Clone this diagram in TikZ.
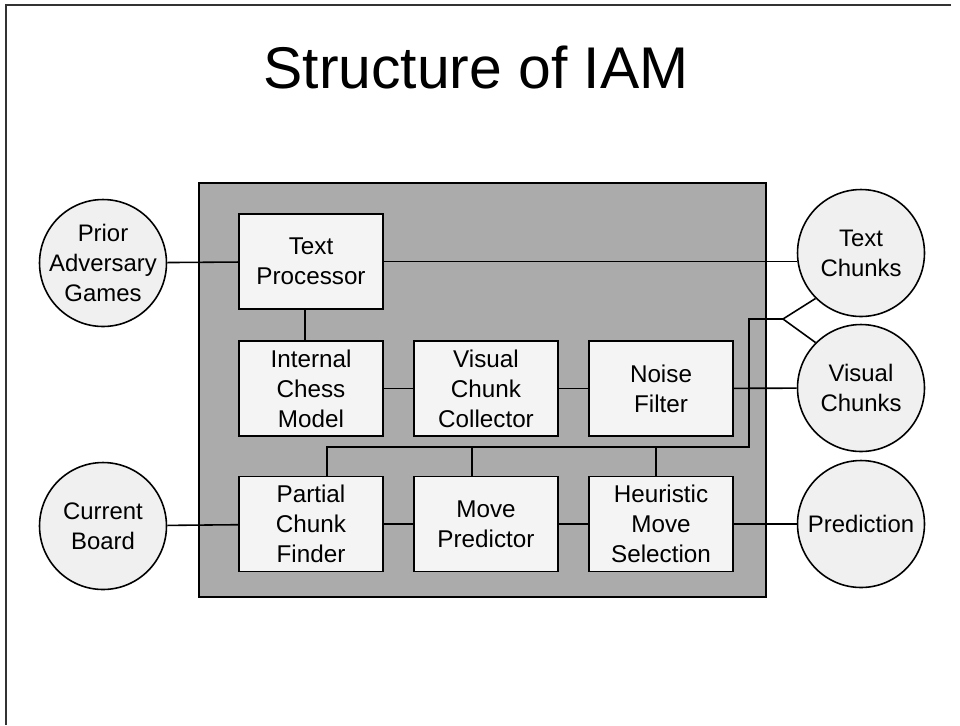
\documentclass[tikz,border=0pt]{standalone}
\usepackage{fontspec}
\setmainfont{Liberation Sans}
\definecolor{panelgray}{HTML}{ABABAB}
\definecolor{boxfill}{HTML}{F4F4F4}
\definecolor{iofill}{HTML}{F0F0F0}
\definecolor{framegray}{HTML}{333333}
\begin{document}
\begin{tikzpicture}[x=0.02cm,y=-0.02cm,
    box/.style={draw, line width=1pt, fill=boxfill, minimum width=2.88cm, minimum height=1.9cm,
      align=center, inner sep=0pt, font=\fontsize{13.8}{17}\selectfont},
    io/.style={draw, circle, line width=0.9pt, fill=iofill, minimum size=2.54cm,
      align=center, inner sep=-4pt, font=\fontsize{13.6}{17}\selectfont},
    link/.style={line width=0.9pt}]
        \useasboundingbox (0,0) rectangle (960,725);
        \draw[framegray, line width=0.9pt] (951,5) -- (6,5) -- (6,725);
        \node[anchor=base, font=\fontsize{33.5}{40}\selectfont] (title) at (476,88) {Structure of IAM};
        % grey system panel
        \draw[line width=1pt, fill=panelgray] (199,183) rectangle (766,597);
        % inner modules
        \node[box] (tp) at (311,261.5) {Text\\Processor};
        \node[box] (icm) at (311,388.5) {Internal\\Chess\\Model};
        \node[box] (vcc) at (486,388.5) {Visual\\Chunk\\Collector};
        \node[box] (nf) at (661,388.5) {Noise\\Filter};
        \node[box] (pcf) at (311,524) {Partial\\Chunk\\Finder};
        \node[box] (mp) at (486,524) {Move\\Predictor};
        \node[box] (hms) at (661,524) {Heuristic\\Move\\Selection};
        % inputs and outputs
        \node[io] (prior) at (103,263) {Prior\\Adversary\\Games};
        \node[io] (board) at (103,526) {Current\\Board};
        \node[io] (textc) at (861,253) {Text\\Chunks};
        \node[io] (visc) at (861,388) {Visual\\Chunks};
        \node[io] (pred) at (861,524) {Prediction};
        \coordinate (bus) at (749,447);
        \coordinate (fork) at (783,319);
        \draw[link] (prior) -- (tp);
        \draw[link] (tp.east) -- (tp.east -| textc.west);
        \draw[link] ([xshift=-0.12cm]tp.south) -- ([xshift=-0.12cm]icm.north);
        \draw[link] (icm) -- (vcc);
        \draw[link] (vcc) -- (nf);
        \draw[link] (nf) -- (visc);
        \draw[link] (board) -- (pcf);
        \draw[link] (pcf) -- (mp);
        \draw[link] (mp) -- (hms);
        \draw[link] (hms) -- (pred);
        \draw[link] ([xshift=0.32cm]pcf.north) |- (bus) |- (fork);
        \draw[link] ([xshift=-0.28cm]mp.north) -- ([xshift=-0.28cm]mp.north |- bus);
        \draw[link] ([xshift=-0.1cm]hms.north) -- ([xshift=-0.1cm]hms.north |- bus);
        \draw[link] (textc.225) -- (fork) -- (visc.135);
      \end{tikzpicture}
\end{document}
